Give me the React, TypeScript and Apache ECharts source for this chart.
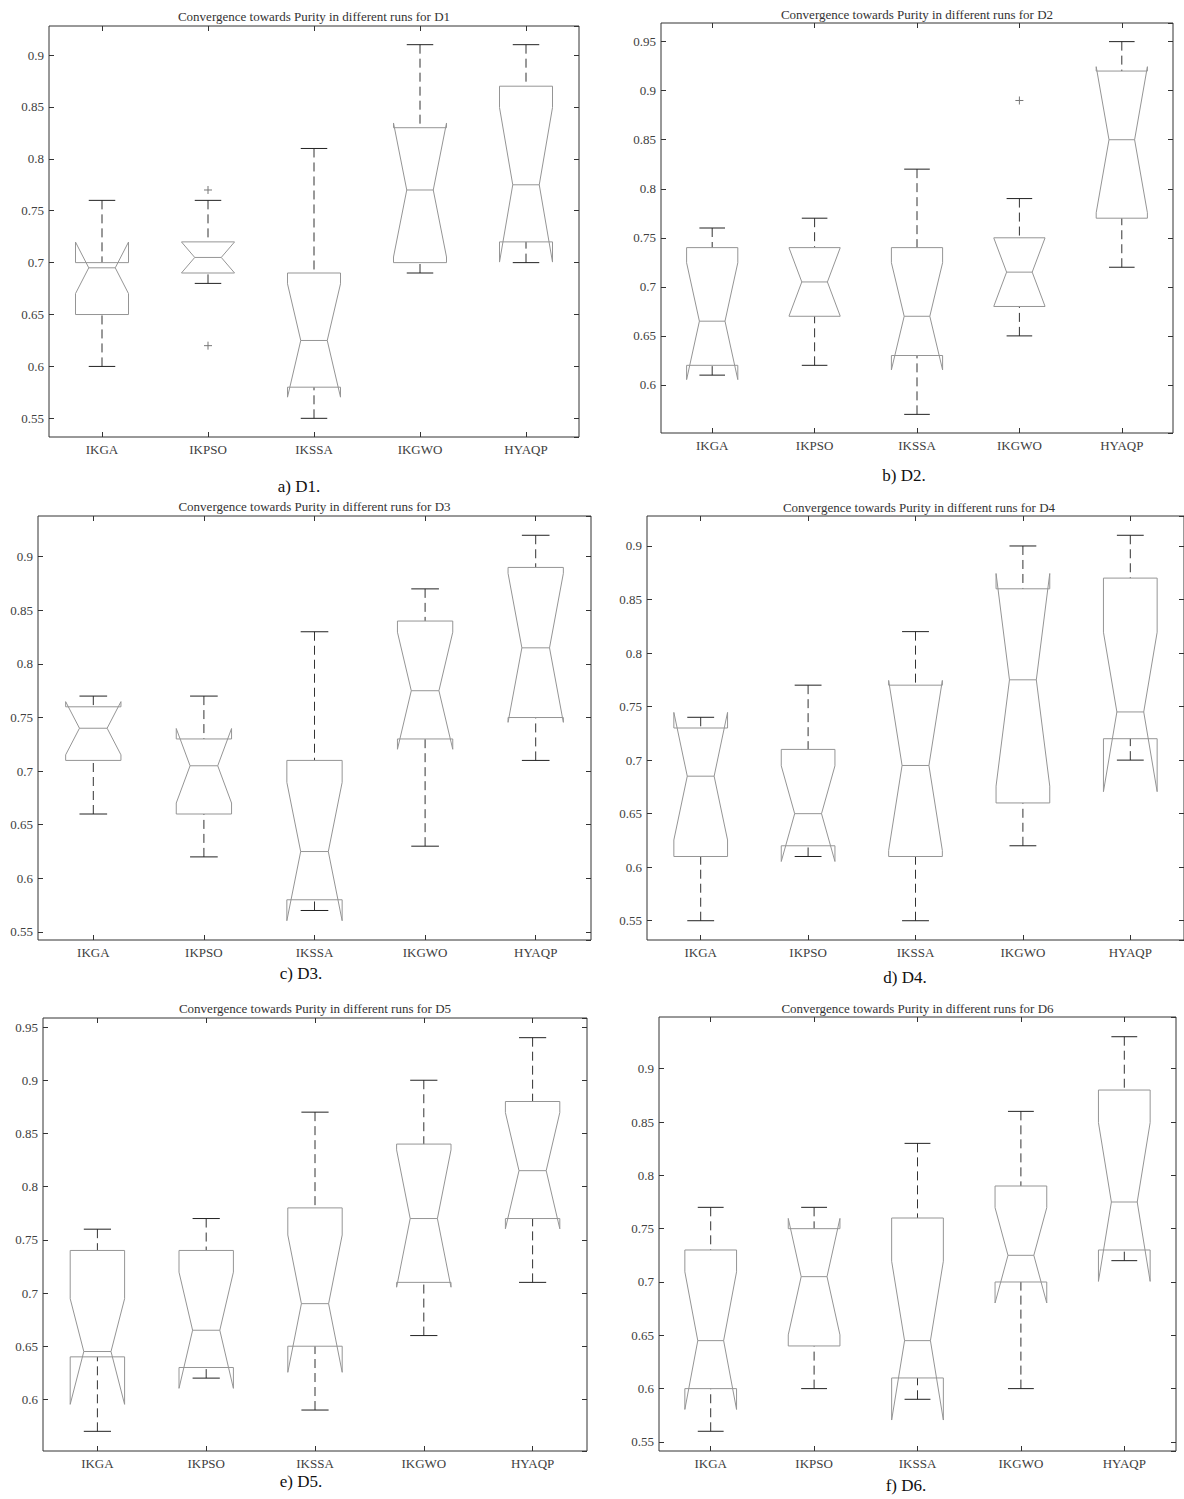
import React, { useEffect, useRef } from 'react';
import * as echarts from 'echarts';

const categories = ['IKGA', 'IKPSO', 'IKSSA', 'IKGWO', 'HYAQP'];

// each box: [lower whisker, Q1, median, Q3, upper whisker], one per category
const d1Boxes = [
  [0.60, 0.65, 0.695, 0.70, 0.76],
  [0.68, 0.69, 0.705, 0.72, 0.76],
  [0.55, 0.58, 0.625, 0.69, 0.81],
  [0.69, 0.70, 0.77, 0.83, 0.91],
  [0.70, 0.72, 0.775, 0.87, 0.91],
];
const d1Outliers = [[1, 0.77], [1, 0.62]];

const d2Boxes = [
  [0.61, 0.62, 0.665, 0.74, 0.76],
  [0.62, 0.67, 0.705, 0.74, 0.77],
  [0.57, 0.63, 0.67, 0.74, 0.82],
  [0.65, 0.68, 0.715, 0.75, 0.79],
  [0.72, 0.77, 0.85, 0.92, 0.95],
];
const d2Outliers = [[3, 0.89]];

const d3Boxes = [
  [0.66, 0.71, 0.74, 0.76, 0.77],
  [0.62, 0.66, 0.705, 0.73, 0.77],
  [0.57, 0.58, 0.625, 0.71, 0.83],
  [0.63, 0.73, 0.775, 0.84, 0.87],
  [0.71, 0.75, 0.815, 0.89, 0.92],
];
const d3Outliers: number[][] = [];

const d4Boxes = [
  [0.55, 0.61, 0.685, 0.73, 0.74],
  [0.61, 0.62, 0.65, 0.71, 0.77],
  [0.55, 0.61, 0.695, 0.77, 0.82],
  [0.62, 0.66, 0.775, 0.86, 0.90],
  [0.70, 0.72, 0.745, 0.87, 0.91],
];
const d4Outliers: number[][] = [];

const d5Boxes = [
  [0.57, 0.64, 0.645, 0.74, 0.76],
  [0.62, 0.63, 0.665, 0.74, 0.77],
  [0.59, 0.65, 0.69, 0.78, 0.87],
  [0.66, 0.71, 0.77, 0.84, 0.90],
  [0.71, 0.77, 0.815, 0.88, 0.94],
];
const d5Outliers: number[][] = [];

const d6Boxes = [
  [0.56, 0.60, 0.645, 0.73, 0.77],
  [0.60, 0.64, 0.705, 0.75, 0.77],
  [0.59, 0.61, 0.645, 0.76, 0.83],
  [0.60, 0.70, 0.725, 0.79, 0.86],
  [0.72, 0.73, 0.775, 0.88, 0.93],
];
const d6Outliers: number[][] = [];

const titles = [
  'Convergence towards Purity in different runs for D1',
  'Convergence towards Purity in different runs for D2',
  'Convergence towards Purity in different runs for D3',
  'Convergence towards Purity in different runs for D4',
  'Convergence towards Purity in different runs for D5',
  'Convergence towards Purity in different runs for D6',
];
const captions = ['a) D1.', 'b) D2.', 'c) D3.', 'd) D4.', 'e) D5.', 'f) D6.'];

// MATLAB notch: median +/- 1.57 * IQR / sqrt(n)
const RUNS = 10;
const NOTCH_K = 1.57;

// layout (pixels)
const layout = [
  { left: 49, top: 26, width: 530, height: 411, titleY: 16, capX: 299, capY: 486 },
  { left: 661, top: 23, width: 512, height: 410, titleY: 14, capX: 904, capY: 475 },
  { left: 38, top: 516, width: 553, height: 424, titleY: 506, capX: 301, capY: 973 },
  { left: 647, top: 516, width: 544, height: 424, titleY: 507, capX: 905, capY: 977 },
  { left: 43, top: 1018, width: 544, height: 433, titleY: 1008, capX: 301, capY: 1481 },
  { left: 659, top: 1017, width: 517, height: 434, titleY: 1008, capX: 906, capY: 1485 },
];

const allBoxes = [d1Boxes, d2Boxes, d3Boxes, d4Boxes, d5Boxes, d6Boxes];
const allOutliers = [d1Outliers, d2Outliers, d3Outliers, d4Outliers, d5Outliers, d6Outliers];

const SERIF = "'Liberation Serif', 'Times New Roman', serif";
const BOX_COLOR = '#959595';
const WHISKER_COLOR = '#333333';

function notch(b: number[]) {
  const half = (NOTCH_K * (b[3] - b[1])) / Math.sqrt(RUNS);
  return [b[2] - half, b[2] + half];
}

// MATLAB-like auto limits: data extent (incl. notches and outliers) padded by 5%
function yLimits(boxes: number[][], outliers: number[][]) {
  let lo = Infinity;
  let hi = -Infinity;
  boxes.forEach((b) => {
    const [nl, nh] = notch(b);
    lo = Math.min(lo, b[0], nl);
    hi = Math.max(hi, b[4], nh);
  });
  outliers.forEach((o) => {
    lo = Math.min(lo, o[1]);
    hi = Math.max(hi, o[1]);
  });
  const pad = (hi - lo) * 0.05;
  return [lo - pad, hi + pad];
}

const renderBox = (params: any, api: any) => {
  const idx = api.value(0);
  const lo = api.value(1);
  const q1 = api.value(2);
  const med = api.value(3);
  const q3 = api.value(4);
  const hi = api.value(5);
  const [nLo, nHi] = notch([lo, q1, med, q3, hi]);
  const band = api.size([1, 0])[0];
  const bw = band * 0.5;
  const cx = api.coord([idx, med])[0];
  const L = cx - bw / 2;
  const R = cx + bw / 2;
  const inset = bw * 0.25;
  const capHalf = bw / 4;
  const y = (v: number) => api.coord([idx, v])[1];
  const dash = { stroke: WHISKER_COLOR, lineWidth: 1, lineDash: [9, 5], fill: null };
  const solid = { stroke: '#222', lineWidth: 1, fill: null };
  return {
    type: 'group',
    children: [
      { type: 'line', shape: { x1: cx, y1: y(hi), x2: cx, y2: y(q3) }, style: dash },
      { type: 'line', shape: { x1: cx, y1: y(lo), x2: cx, y2: y(q1) }, style: dash },
      { type: 'line', shape: { x1: cx - capHalf, y1: y(hi), x2: cx + capHalf, y2: y(hi) }, style: solid },
      { type: 'line', shape: { x1: cx - capHalf, y1: y(lo), x2: cx + capHalf, y2: y(lo) }, style: solid },
      {
        type: 'polyline',
        shape: {
          points: [
            [L, y(q3)], [L, y(nHi)], [L + inset, y(med)], [L, y(nLo)], [L, y(q1)],
            [R, y(q1)], [R, y(nLo)], [R - inset, y(med)], [R, y(nHi)], [R, y(q3)], [L, y(q3)],
          ],
        },
        style: { stroke: BOX_COLOR, lineWidth: 1, fill: null },
      },
      {
        type: 'line',
        shape: { x1: L + inset, y1: y(med), x2: R - inset, y2: y(med) },
        style: { stroke: BOX_COLOR, lineWidth: 1, fill: null },
      },
    ],
  };
};

const renderOutlier = (params: any, api: any) => {
  const p = api.coord([api.value(0), api.value(1)]);
  const s = 4;
  const st = { stroke: '#777', lineWidth: 1, fill: null };
  return {
    type: 'group',
    children: [
      { type: 'line', shape: { x1: p[0] - s, y1: p[1], x2: p[0] + s, y2: p[1] }, style: st },
      { type: 'line', shape: { x1: p[0], y1: p[1] - s, x2: p[0], y2: p[1] + s }, style: st },
    ],
  };
};

function buildOption() {
  const grid: any[] = [];
  const xAxis: any[] = [];
  const yAxis: any[] = [];
  const series: any[] = [];
  const graphic: any[] = [];

  layout.forEach((g, i) => {
    const [ymin, ymax] = yLimits(allBoxes[i], allOutliers[i]);
    grid.push({
      left: g.left,
      top: g.top,
      width: g.width,
      height: g.height,
      show: true,
      borderColor: '#333',
      borderWidth: 1,
      backgroundColor: 'transparent',
    });
    const tick = { show: true, inside: true, length: 5, alignWithLabel: true, lineStyle: { color: '#333', width: 1 } };
    xAxis.push({
      type: 'category',
      gridIndex: i,
      data: categories,
      position: 'bottom',
      boundaryGap: true,
      axisLine: { show: false },
      axisTick: tick,
      axisLabel: { color: '#404040', fontFamily: SERIF, fontSize: 13, margin: 6 },
      splitLine: { show: false },
    });
    xAxis.push({
      type: 'category',
      gridIndex: i,
      data: categories,
      position: 'top',
      boundaryGap: true,
      axisLine: { show: false },
      axisTick: tick,
      axisLabel: { show: false },
      splitLine: { show: false },
    });
    const yFmt = (v: number) => {
      const k = v / 0.05;
      return Math.abs(k - Math.round(k)) < 1e-6 ? String(Math.round(v * 100) / 100) : '';
    };
    const ytick = { show: true, inside: true, length: 5, lineStyle: { color: '#333', width: 1 } };
    yAxis.push({
      type: 'value',
      gridIndex: i,
      min: ymin,
      max: ymax,
      splitNumber: 8,
      position: 'left',
      axisLine: { show: false },
      axisTick: ytick,
      axisLabel: { color: '#404040', fontFamily: SERIF, fontSize: 13, margin: 5, formatter: yFmt, showMinLabel: false, showMaxLabel: false },
      splitLine: { show: false },
    });
    yAxis.push({
      type: 'value',
      gridIndex: i,
      min: ymin,
      max: ymax,
      splitNumber: 8,
      position: 'right',
      axisLine: { show: false },
      axisTick: ytick,
      axisLabel: { show: false },
      splitLine: { show: false },
    });
    series.push({
      type: 'custom',
      xAxisIndex: 2 * i,
      yAxisIndex: 2 * i,
      renderItem: renderBox,
      encode: { x: 0, y: [1, 2, 3, 4, 5] },
      data: allBoxes[i].map((b, j) => [j, ...b]),
      silent: true,
    });
    if (allOutliers[i].length) {
      series.push({
        type: 'custom',
        xAxisIndex: 2 * i,
        yAxisIndex: 2 * i,
        renderItem: renderOutlier,
        encode: { x: 0, y: 1 },
        data: allOutliers[i],
        silent: true,
      });
    }
    graphic.push({
      type: 'text',
      x: g.left + g.width / 2,
      y: g.titleY,
      style: {
        text: titles[i],
        fontFamily: SERIF,
        fontSize: 13,
        fill: '#333',
        align: 'center',
        verticalAlign: 'middle',
      },
    });
    graphic.push({
      type: 'text',
      x: g.capX,
      y: g.capY,
      style: {
        text: captions[i],
        fontFamily: SERIF,
        fontSize: 17,
        fill: '#111',
        align: 'center',
        verticalAlign: 'middle',
      },
    });
  });

  return {
    animation: false,
    backgroundColor: '#ffffff',
    grid,
    xAxis,
    yAxis,
    series,
    graphic,
  };
}

export default function App() {
  const ref = useRef<HTMLDivElement>(null);
  useEffect(() => {
    if (!ref.current) return;
    const chart = echarts.init(ref.current, undefined, { renderer: 'svg' });
    chart.setOption(buildOption() as any);
    return () => chart.dispose();
  }, []);
  return (
    <div
      style={{ position: 'absolute', left: 0, top: 0, width: 1184, height: 1499, overflow: 'hidden', background: '#fff' }}
    >
      <div ref={ref} style={{ width: 1184, height: 1499 }} />
    </div>
  );
}
